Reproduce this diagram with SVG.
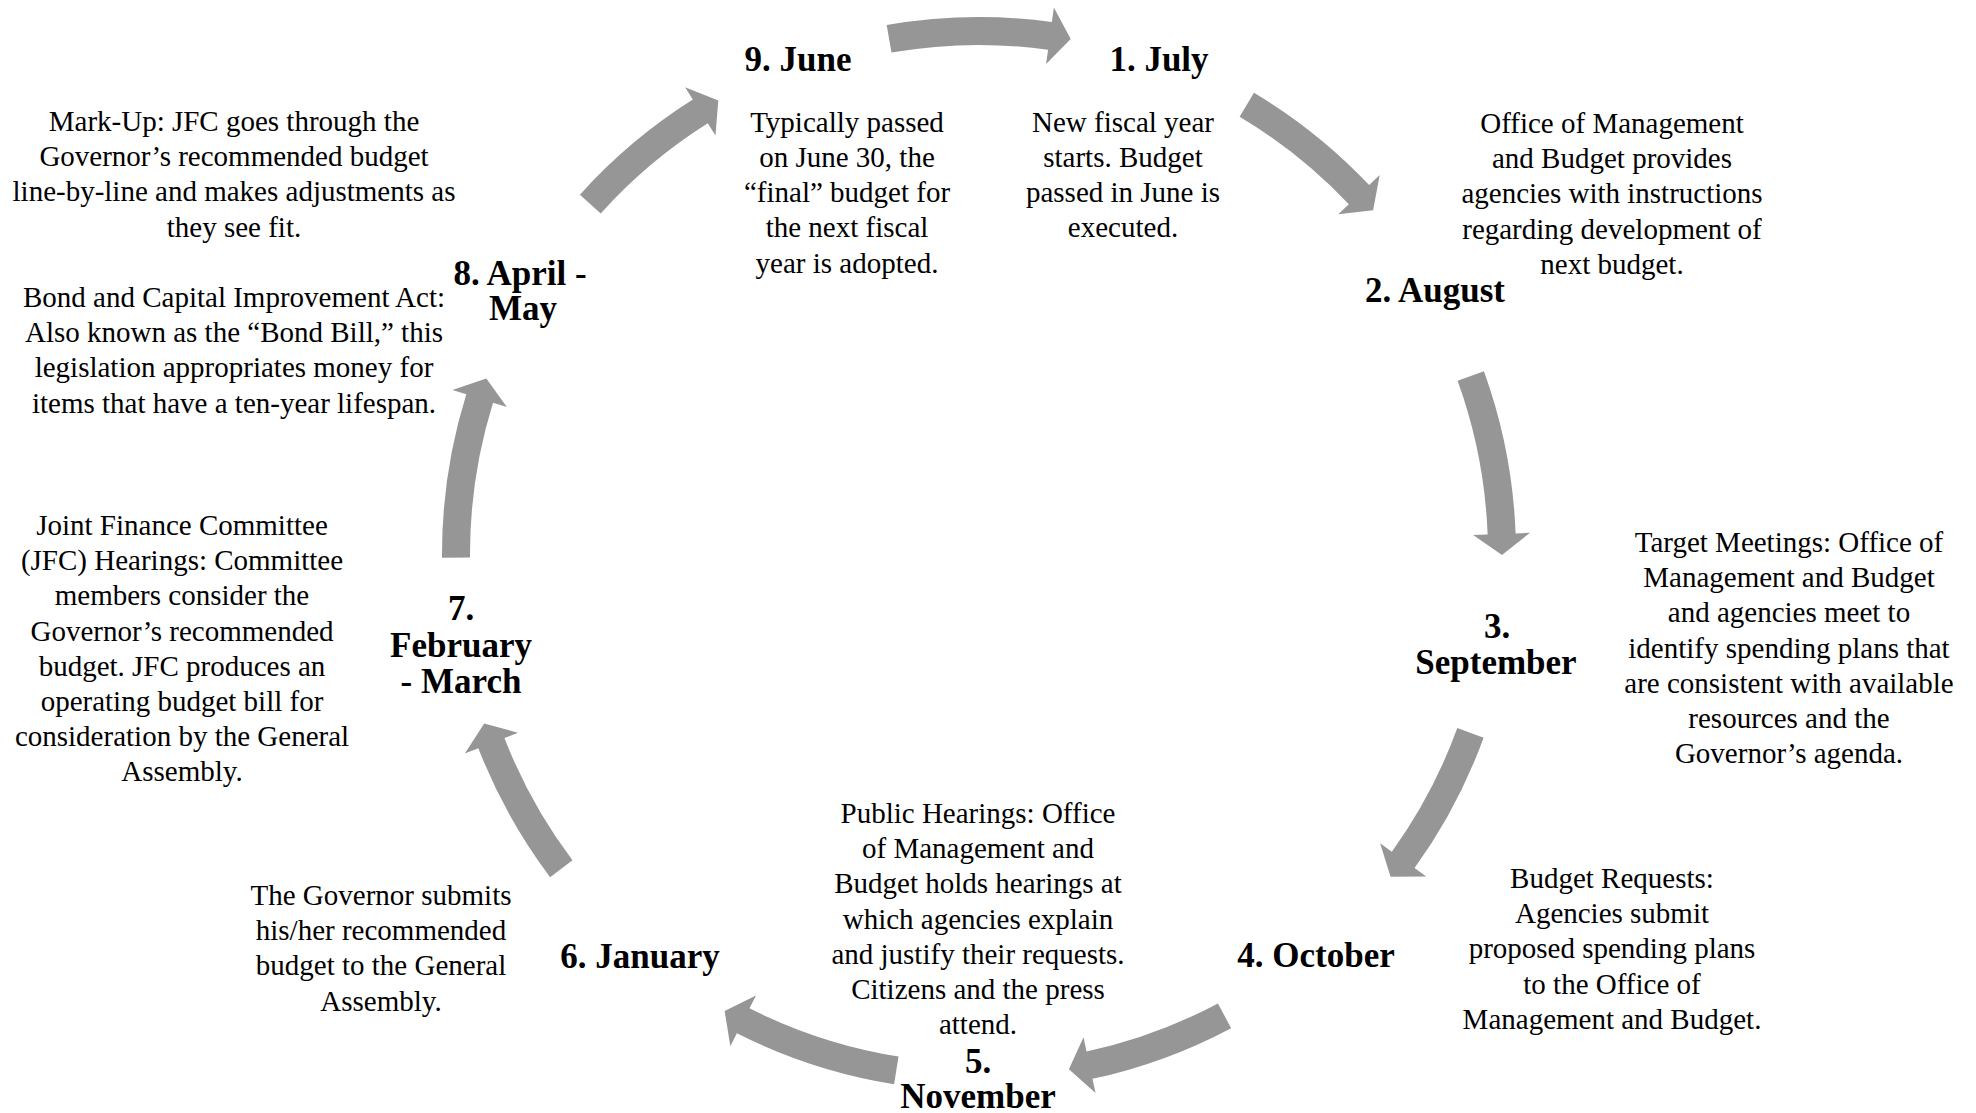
<svg xmlns="http://www.w3.org/2000/svg" width="1976" height="1113" viewBox="0 0 1976 1113">
<style>
.h{font-family:"Liberation Serif","Times New Roman",serif;font-weight:bold;font-size:35px;fill:#000;text-anchor:middle}
.b{font-family:"Liberation Serif","Times New Roman",serif;font-size:29px;fill:#000;text-anchor:middle}
.arw{fill:#969696}
</style>
<defs>
<path id="arw" class="arw" d="M -87.51 -501.42 L -92.33 -529.00 A 537 537 0 0 1 72.88 -532.03 L 74.85 -546.40 L 91.72 -514.89 L 67.11 -489.93 L 69.08 -504.29 A 509 509 0 0 0 -87.51 -501.42 Z"/>
<path id="arws" class="arw" d="M -70.84 -504.05 L -74.73 -531.78 A 537 537 0 0 1 72.88 -532.03 L 74.85 -546.40 L 91.72 -514.89 L 67.11 -489.93 L 69.08 -504.29 A 509 509 0 0 0 -70.84 -504.05 Z"/>
</defs>
<rect width="1976" height="1113" fill="#fff"/>
<g id="connectors">
<use href="#arw" transform="translate(979,554) rotate(0)"/>
<use href="#arws" transform="translate(979,554) rotate(38.8)"/>
<use href="#arw" transform="translate(979,554) rotate(80)"/>
<use href="#arws" transform="translate(979,554) rotate(118)"/>
<use href="#arws" transform="translate(979,554) rotate(160)"/>
<use href="#arw" transform="translate(979,554) rotate(199)"/>
<use href="#arws" transform="translate(979,554) rotate(241)"/>
<use href="#arw" transform="translate(979,554) rotate(279.5)"/>
<use href="#arws" transform="translate(979,554) rotate(320)"/>
</g>
<g id="node-july">
<text class="h" x="1159" y="71">1. July</text>
<text class="b" x="1123" y="131.7">New fiscal year</text>
<text class="b" x="1123" y="166.9">starts. Budget</text>
<text class="b" x="1123" y="202.1">passed in June is</text>
<text class="b" x="1123" y="237.3">executed.</text>
</g>
<g id="node-august">
<text class="h" x="1435" y="302">2. August</text>
<text class="b" x="1612" y="133">Office of Management</text>
<text class="b" x="1612" y="168.2">and Budget provides</text>
<text class="b" x="1612" y="203.4">agencies with instructions</text>
<text class="b" x="1612" y="238.6">regarding development of</text>
<text class="b" x="1612" y="273.8">next budget.</text>
</g>
<g id="node-september">
<text class="h" x="1497" y="638">3.<tspan x="1496" dy="36">September</tspan></text>
<text class="b" x="1789" y="552">Target Meetings: Office of</text>
<text class="b" x="1789" y="587.2">Management and Budget</text>
<text class="b" x="1789" y="622.4">and agencies meet to</text>
<text class="b" x="1789" y="657.6">identify spending plans that</text>
<text class="b" x="1789" y="692.8">are consistent with available</text>
<text class="b" x="1789" y="728">resources and the</text>
<text class="b" x="1789" y="763.2">Governor’s agenda.</text>
</g>
<g id="node-october">
<text class="h" x="1316" y="967">4. October</text>
<text class="b" x="1612" y="888">Budget Requests:</text>
<text class="b" x="1612" y="923.2">Agencies submit</text>
<text class="b" x="1612" y="958.4">proposed spending plans</text>
<text class="b" x="1612" y="993.6">to the Office of</text>
<text class="b" x="1612" y="1028.8">Management and Budget.</text>
</g>
<g id="node-november">
<text class="h" x="978" y="1073">5.<tspan x="978" dy="35">November</tspan></text>
<text class="b" x="978" y="823">Public Hearings: Office</text>
<text class="b" x="978" y="858.2">of Management and</text>
<text class="b" x="978" y="893.4">Budget holds hearings at</text>
<text class="b" x="978" y="928.6">which agencies explain</text>
<text class="b" x="978" y="963.8">and justify their requests.</text>
<text class="b" x="978" y="999">Citizens and the press</text>
<text class="b" x="978" y="1034.2">attend.</text>
</g>
<g id="node-january">
<text class="h" x="640" y="968">6. January</text>
<text class="b" x="381" y="905">The Governor submits</text>
<text class="b" x="381" y="940.2">his/her recommended</text>
<text class="b" x="381" y="975.4">budget to the General</text>
<text class="b" x="381" y="1010.6">Assembly.</text>
</g>
<g id="node-february-march">
<text class="h" x="461" y="620">7.<tspan x="461" dy="37">February</tspan><tspan x="461" dy="36">- March</tspan></text>
<text class="b" x="182" y="535">Joint Finance Committee</text>
<text class="b" x="182" y="570.2">(JFC) Hearings: Committee</text>
<text class="b" x="182" y="605.4">members consider the</text>
<text class="b" x="182" y="640.6">Governor’s recommended</text>
<text class="b" x="182" y="675.8">budget. JFC produces an</text>
<text class="b" x="182" y="711">operating budget bill for</text>
<text class="b" x="182" y="746.2">consideration by the General</text>
<text class="b" x="182" y="781.4">Assembly.</text>
</g>
<g id="node-april-may">
<text class="h" x="520" y="285">8. April -<tspan x="523" dy="35">May</tspan></text>
<text class="b" x="234" y="131">Mark-Up: JFC goes through the</text>
<text class="b" x="234" y="166.2">Governor’s recommended budget</text>
<text class="b" x="234" y="201.4">line-by-line and makes adjustments as</text>
<text class="b" x="234" y="236.6">they see fit.</text>
<text class="b" x="234" y="307">Bond and Capital Improvement Act:</text>
<text class="b" x="234" y="342.2">Also known as the “Bond Bill,” this</text>
<text class="b" x="234" y="377.4">legislation appropriates money for</text>
<text class="b" x="234" y="412.6">items that have a ten-year lifespan.</text>
</g>
<g id="node-june">
<text class="h" x="798" y="71">9. June</text>
<text class="b" x="847" y="131.7">Typically passed</text>
<text class="b" x="847" y="166.9">on June 30, the</text>
<text class="b" x="847" y="202.1">“final” budget for</text>
<text class="b" x="847" y="237.3">the next fiscal</text>
<text class="b" x="847" y="272.5">year is adopted.</text>
</g>
</svg>
